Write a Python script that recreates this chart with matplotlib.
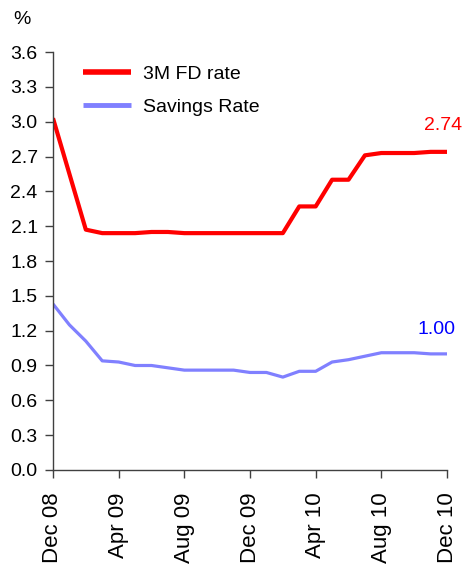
import matplotlib
matplotlib.use("Agg")
import matplotlib.pyplot as plt
import numpy as np

# monthly observations, Dec 08 .. Dec 10
months = ['Dec 08', 'Jan 09', 'Feb 09', 'Mar 09', 'Apr 09', 'May 09', 'Jun 09',
          'Jul 09', 'Aug 09', 'Sep 09', 'Oct 09', 'Nov 09', 'Dec 09', 'Jan 10',
          'Feb 10', 'Mar 10', 'Apr 10', 'May 10', 'Jun 10', 'Jul 10', 'Aug 10',
          'Sep 10', 'Oct 10', 'Nov 10', 'Dec 10']
fd_rate = [3.03, 2.55, 2.07, 2.04, 2.04, 2.04, 2.05, 2.05, 2.04, 2.04, 2.04,
           2.04, 2.04, 2.04, 2.04, 2.27, 2.27, 2.50, 2.50, 2.71, 2.73, 2.73,
           2.73, 2.74, 2.74]
savings_rate = [1.43, 1.25, 1.11, 0.94, 0.93, 0.90, 0.90, 0.88, 0.86, 0.86,
                0.86, 0.86, 0.84, 0.84, 0.80, 0.85, 0.85, 0.93, 0.95, 0.98,
                1.01, 1.01, 1.01, 1.00, 1.00]
yticks = [0.0, 0.3, 0.6, 0.9, 1.2, 1.5, 1.8, 2.1, 2.4, 2.7, 3.0, 3.3, 3.6]

plt.rcParams['font.family'] = ['Liberation Sans', 'DejaVu Sans']
fs = 14

fig = plt.figure(figsize=(4.64, 5.69), dpi=100)
ax = fig.add_axes([0.1142, 0.174, 0.8492, 0.7346])

x = np.arange(len(months))
ax.plot(x, fd_rate, color='#FF0000', lw=3.0, label='3M FD rate',
        solid_capstyle='butt')
ax.plot(x, savings_rate, color='#8080FF', lw=2.3, label='Savings Rate',
        solid_capstyle='butt')

# end-of-series value labels
ax.text(x[-1] + 0.95, fd_rate[-1] + 0.23, f"{fd_rate[-1]:.2f}", color='#FF0000',
        ha='right', va='center', fontsize=fs)
ax.text(x[-1] + 0.5, savings_rate[-1] + 0.21, f"{savings_rate[-1]:.2f}",
        color='#0000FF', ha='right', va='center', fontsize=fs)

ax.set_xlim(0, len(months) - 1)
ax.set_ylim(0, 3.6)
ax.set_yticks(yticks)
ax.set_yticklabels([f"{v:.1f}" for v in yticks], fontsize=fs)
ax.set_xticks(x[::4])
ax.set_xticklabels(months[::4], rotation=90, fontsize=16)

for s in ['top', 'right']:
    ax.spines[s].set_visible(False)
for s in ['left', 'bottom']:
    ax.spines[s].set_color('#404040')
    ax.spines[s].set_linewidth(1.0)
ax.tick_params(direction='out', length=6, width=1.0, color='#404040',
               labelcolor='black')
ax.tick_params(axis='y', pad=5)
ax.tick_params(axis='x', pad=10)

leg = ax.legend(loc='upper left', bbox_to_anchor=(0.056, 0.987), frameon=False,
                handlelength=2.5, handletextpad=0.6, labelspacing=0.8,
                fontsize=fs, borderaxespad=0)
for ln in leg.get_lines():
    ln.set_linewidth(4 if ln.get_label() == '3M FD rate' else 3.5)

fig.text(0.028, 0.965, '%', fontsize=fs, va='center', ha='left')

fig.savefig('out.png', dpi=100)
